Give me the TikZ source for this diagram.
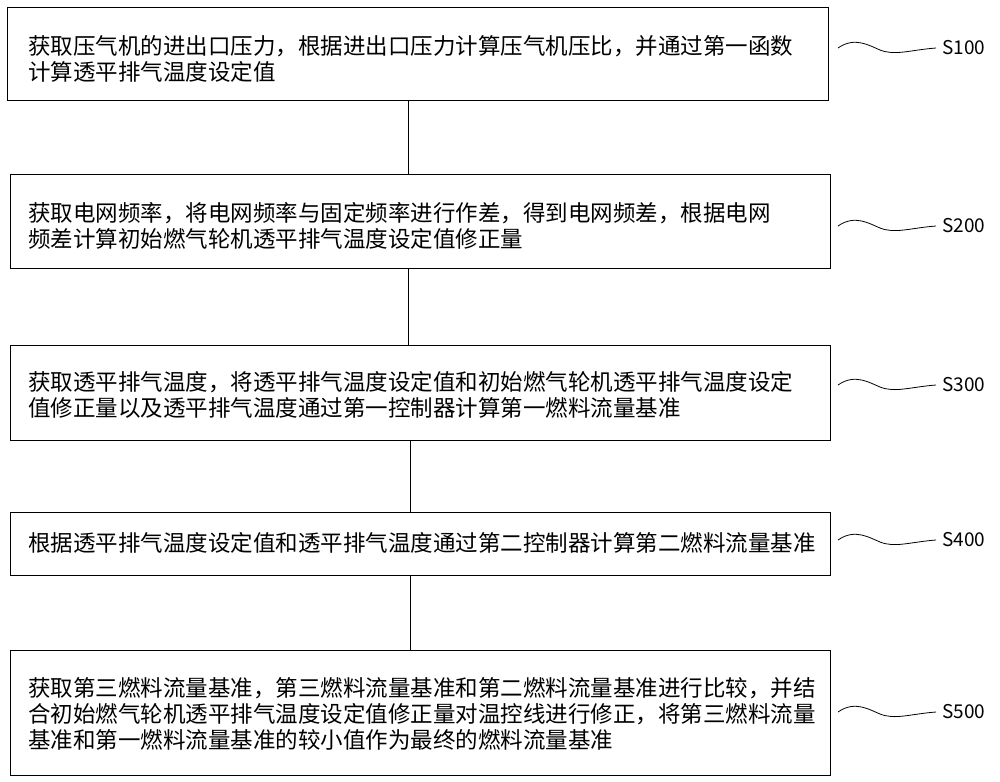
\documentclass[tikz,border=0pt]{standalone}
\usepackage{fontspec}
\setmainfont{Noto Sans CJK SC}
\begin{document}
\begin{tikzpicture}[x=1pt,y=-1pt,
  stepbox/.style={draw,line width=1pt,anchor=north west,inner sep=0pt},
  txt/.style={anchor=west,align=left,font=\fontsize{22.5}{26}\selectfont,inner sep=0pt},
  lab/.style={anchor=west,font=\fontsize{19}{22}\selectfont,inner sep=0pt},
  lead/.style={line width=0.8pt}]
\useasboundingbox (0,0) rectangle (1000,781);
\node[stepbox,minimum width=821pt,minimum height=93pt] (b1) at (7,7) {};
\node[stepbox,minimum width=820pt,minimum height=94pt] (b2) at (10,174) {};
\node[stepbox,minimum width=820pt,minimum height=95pt] (b3) at (10,345) {};
\node[stepbox,minimum width=820pt,minimum height=63pt] (b4) at (10,512) {};
\node[stepbox,minimum width=820pt,minimum height=125pt] (b5) at (10,650) {};
\node[txt] (t1) at (28,59) {获取压气机的进出口压力，根据进出口压力计算压气机压比，并通过第一函数\\计算透平排气温度设定值};
\node[txt] (t2) at (28,226) {获取电网频率，将电网频率与固定频率进行作差，得到电网频差，根据电网\\频差计算初始燃气轮机透平排气温度设定值修正量};
\node[txt] (t3) at (28,395) {获取透平排气温度，将透平排气温度设定值和初始燃气轮机透平排气温度设定\\值修正量以及透平排气温度通过第一控制器计算第一燃料流量基准};
\node[txt] (t4) at (28,543) {根据透平排气温度设定值和透平排气温度通过第二控制器计算第二燃料流量基准};
\node[txt] (t5) at (28,714) {获取第三燃料流量基准，第三燃料流量基准和第二燃料流量基准进行比较，并结\\合初始燃气轮机透平排气温度设定值修正量对温控线进行修正，将第三燃料流量\\基准和第一燃料流量基准的较小值作为最终的燃料流量基准};
\draw[lead] (408,100) -- (408,174);
\draw[lead] (408,268) -- (408,345);
\draw[lead] (410,440) -- (410,512);
\draw[lead] (410,575) -- (410,650);
\foreach \i/\y/\l in {1/48/S100,2/226/S200,3/385/S300,4/540/S400,5/712/S500}{
  \node[lab] (s\i) at (942,\y) {\l};
  \coordinate (c\i) at (838,\y);
  \draw[lead] (c\i) .. controls (855,\y-12) and (870,\y-2) .. (880,\y+2)
    .. controls (895,\y+8) and (910,\y+2) .. ([xshift=-6pt]s\i.west);
}
\end{tikzpicture}
\end{document}
